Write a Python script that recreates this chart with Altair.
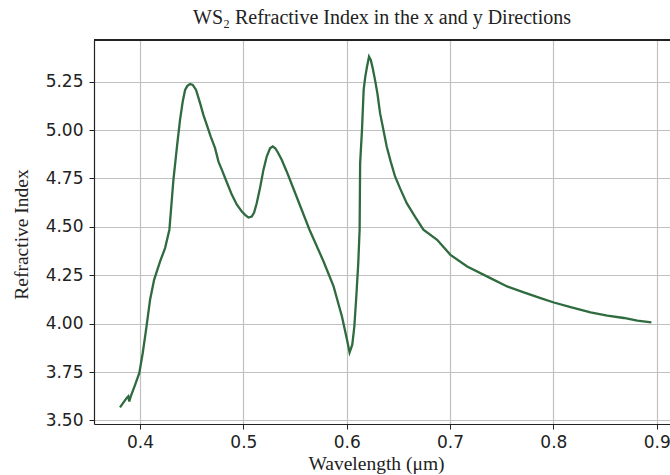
import altair as alt
import pandas as pd

wavelength = [0.3806, 0.3871, 0.3886, 0.3896, 0.3910, 0.3952, 0.3993, 0.4026, 0.4058, 0.4097,
              0.4136, 0.4194, 0.4242, 0.4284, 0.4323, 0.4361, 0.4387, 0.4413, 0.4436, 0.4458,
              0.4484, 0.4510, 0.4542, 0.4581, 0.4613, 0.4646, 0.4684, 0.4726, 0.4759, 0.4792,
              0.4824, 0.4856, 0.4889, 0.4937, 0.4985, 0.5017, 0.5049, 0.5081, 0.5104, 0.5129,
              0.5161, 0.5194, 0.5226, 0.5258, 0.5284, 0.5309, 0.5338, 0.5371, 0.5419, 0.5451,
              0.5640, 0.5776, 0.5873, 0.5954, 0.6003, 0.6028, 0.6054, 0.6074, 0.6093, 0.6112,
              0.6125, 0.6130, 0.6148, 0.6164, 0.6180, 0.6197, 0.6216, 0.6233, 0.6252, 0.6274,
              0.6297, 0.6323, 0.6355, 0.6387, 0.6426, 0.6468, 0.6523, 0.6581, 0.6661, 0.6742,
              0.6875, 0.7004, 0.7166, 0.7391, 0.7553, 0.7714, 0.7876, 0.8005, 0.8167, 0.8360,
              0.8522, 0.8683, 0.8813, 0.8949]
refr_index = [3.567, 3.616, 3.624, 3.598, 3.624, 3.684, 3.745, 3.848, 3.968, 4.123,
              4.226, 4.321, 4.390, 4.485, 4.743, 4.932, 5.052, 5.147, 5.207, 5.228,
              5.238, 5.233, 5.207, 5.139, 5.078, 5.027, 4.966, 4.906, 4.837, 4.794,
              4.751, 4.708, 4.665, 4.614, 4.579, 4.562, 4.548, 4.553, 4.574, 4.622,
              4.700, 4.794, 4.863, 4.906, 4.915, 4.906, 4.880, 4.846, 4.786, 4.743,
              4.485, 4.321, 4.192, 4.037, 3.917, 3.851, 3.891, 3.985, 4.140, 4.313,
              4.485, 4.829, 5.001, 5.207, 5.276, 5.328, 5.379, 5.362, 5.319, 5.259,
              5.190, 5.087, 5.001, 4.915, 4.837, 4.760, 4.691, 4.622, 4.553, 4.485,
              4.433, 4.355, 4.295, 4.235, 4.192, 4.161, 4.132, 4.109, 4.085, 4.058,
              4.041, 4.029, 4.015, 4.006]

x_ticks = [0.4, 0.5, 0.6, 0.7, 0.8, 0.9]
y_ticks = [3.50, 3.75, 4.00, 4.25, 4.50, 4.75, 5.00, 5.25]

df = pd.DataFrame({"wavelength": wavelength, "n": refr_index})

W, H = 576, 384
SERIF = "Liberation Serif"
SANS = "DejaVu Sans"

line = alt.Chart(df).mark_line(color="#2f6b3f", strokeWidth=2.3).encode(
    x=alt.X("wavelength:Q",
            scale=alt.Scale(domain=[0.35543, 0.9129], nice=False, zero=False),
            axis=alt.Axis(values=x_ticks, format=".1f", title="Wavelength (μm)",
                          titleFont=SERIF, titleFontSize=19.5, titleFontWeight="normal",
                          titleColor="#222", titleX=282, titleY=45,
                          titleBaseline="alphabetic", titleAlign="center",
                          labelFont=SANS, labelFontSize=17, labelColor="#222",
                          labelPadding=5, tickSize=5, tickColor="#222",
                          domainColor="#222", domainWidth=1.2,
                          grid=True, gridColor="#c0c0c0", gridWidth=1.2,
                          labelFlush=False)),
    y=alt.Y("n:Q",
            scale=alt.Scale(domain=[3.4814, 5.465], nice=False, zero=False),
            axis=alt.Axis(values=y_ticks, format=".2f", title="Refractive Index",
                          titleFont=SERIF, titleFontSize=19.5, titleFontWeight="normal",
                          titleColor="#222", titleX=-67, titleY=194, titleAngle=270,
                          titleBaseline="alphabetic", titleAlign="center",
                          labelFont=SANS, labelFontSize=17, labelColor="#222",
                          labelPadding=6, tickSize=5, tickColor="#222",
                          domainColor="#222", domainWidth=1.2,
                          grid=True, gridColor="#c0c0c0", gridWidth=1.2,
                          labelFlush=False)),
)

top_spine = alt.Chart(df).mark_rule(color="#222", strokeWidth=1.2).encode(
    x=alt.value(0), x2=alt.value(W + 2), y=alt.value(0)
)

chart = alt.layer(line, top_spine).properties(
    width=W, height=H,
    title=alt.TitleParams("WS₂ Refractive Index in the x and y Directions",
                          font=SERIF, fontSize=20, fontWeight="normal", color="#222",
                          anchor="middle", baseline="alphabetic", offset=23, dy=28),
    autosize=alt.AutoSizeParams(type="none"),
    padding={"left": 94, "top": 40, "right": 0, "bottom": 51},
).configure_view(stroke=None)

chart.save("out.html", embed_options={"renderer": "svg", "actions": False})
